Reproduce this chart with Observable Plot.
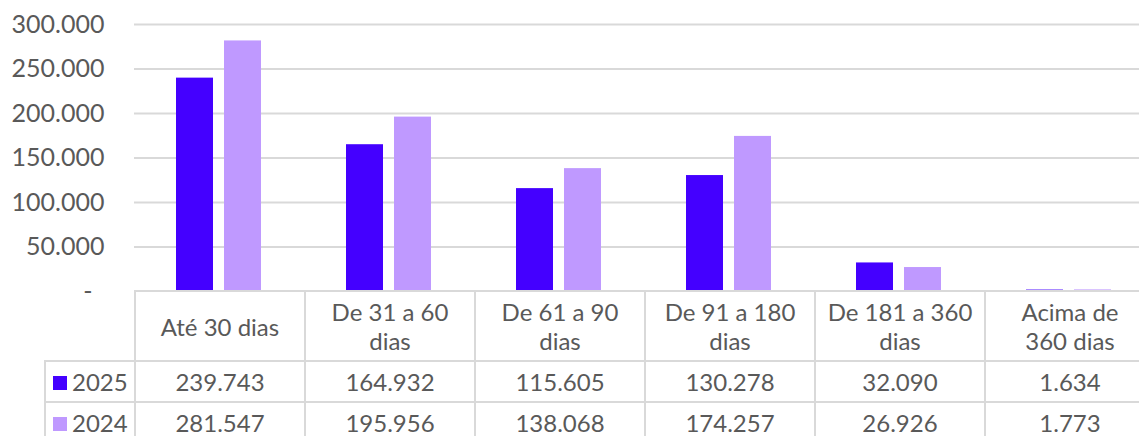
<!DOCTYPE html>
<html>
<head>
<meta charset="utf-8">
<script src="https://cdn.jsdelivr.net/npm/d3@7"></script>
<script src="https://cdn.jsdelivr.net/npm/@observablehq/plot@0.6"></script>
<style>
  html, body { margin: 0; padding: 0; background: #fff; overflow: hidden; }
  #wrap { position: relative; width: 1139px; height: 436px; overflow: hidden; font-family: Lato, sans-serif; color: #595959; }
  #chart { position: absolute; left: 0; top: 0; width: 1154px; }
  #chart svg { max-width: none !important; }
  table { position: absolute; left: 44px; top: 290px; border-collapse: collapse; table-layout: fixed; width: 1110px; font-family: Lato, sans-serif; font-size: 24px; color: #595959; }
  td { border: 2px solid #d9d9d9; padding: 0; text-align: center; vertical-align: middle; white-space: nowrap; }
  tr.head td { height: 68px; line-height: 29px; }
  tr.row td { height: 39px; line-height: 39px; }
  td.blank { border-top: none; border-left: none; }
  td.leg { text-align: left; padding-left: 7px; }
  .sw { display: inline-block; width: 14px; height: 14px; margin-right: 5px; vertical-align: 1px; }
</style>
</head>
<body>
<div id="wrap">
  <div id="chart"></div>
  <table id="tbl"></table>
</div>
<script>
const categories = ["Até 30 dias", "De 31 a 60 dias", "De 61 a 90 dias", "De 91 a 180 dias", "De 181 a 360 dias", "Acima de 360 dias"];
const headerLabels = [["Até 30 dias"], ["De 31 a 60", "dias"], ["De 61 a 90", "dias"], ["De 91 a 180", "dias"], ["De 181 a 360", "dias"], ["Acima de", "360 dias"]];
const years = ["2025", "2024"];
const colors = ["#4400ff", "#bf99ff"];
const values2025 = [239743, 164932, 115605, 130278, 32090, 1634];
const values2024 = [281547, 195956, 138068, 174257, 26926, 1773];
const yTicks = [50000, 100000, 150000, 200000, 250000, 300000];

const series = {"2025": values2025, "2024": values2024};
const data = [];
categories.forEach((c, i) => years.forEach(y => data.push({cat: c, year: y, value: series[y][i]})));

const fmt = v => v.toLocaleString("pt-BR");

const chart = Plot.plot({
  width: 1154,
  height: 305,
  marginLeft: 134,
  marginRight: 0,
  marginTop: 24,
  marginBottom: 14,
  style: {fontFamily: "Lato, sans-serif", fontSize: "24px", color: "#595959", background: "transparent", overflow: "visible", maxWidth: "none"},
  fx: {domain: categories, padding: 0, axis: null, label: null},
  x: {domain: years, paddingInner: 0.2245, paddingOuter: 0.847, axis: null, label: null},
  y: {domain: [0, 300000], axis: null, label: null},
  color: {domain: years, range: colors},
  marks: [
    Plot.gridY(yTicks, {stroke: "#d9d9d9", strokeOpacity: 1, strokeWidth: 2}),
    Plot.axisY(yTicks, {tickSize: 0, tickPadding: 30, tickFormat: fmt, fontSize: 25, fill: "#595959", label: null}),
    Plot.axisY([0], {tickSize: 0, tickPadding: 42, tickFormat: () => "-", fontSize: 25, fill: "#595959", label: null}),
    Plot.barY(data, {fx: "cat", x: "year", y: "value", fill: "year"})
  ]
});
chart.style.maxWidth = "none";
document.getElementById("chart").appendChild(chart);

// data table below the chart
const tbl = document.getElementById("tbl");
const cg = document.createElement("colgroup");
cg.innerHTML = `<col style="width:90px">` + categories.map(() => `<col style="width:170px">`).join("");
tbl.appendChild(cg);
const head = document.createElement("tr");
head.className = "head";
head.innerHTML = `<td class="blank"></td>` + headerLabels.map(l => `<td>${l.join("<br>")}</td>`).join("");
tbl.appendChild(head);
years.forEach((y, k) => {
  const tr = document.createElement("tr");
  tr.className = "row";
  tr.innerHTML = `<td class="leg"><span class="sw" style="background:${colors[k]}"></span>${y}</td>` +
    series[y].map(v => `<td>${fmt(v)}</td>`).join("");
  tbl.appendChild(tr);
});
</script>
</body>
</html>
